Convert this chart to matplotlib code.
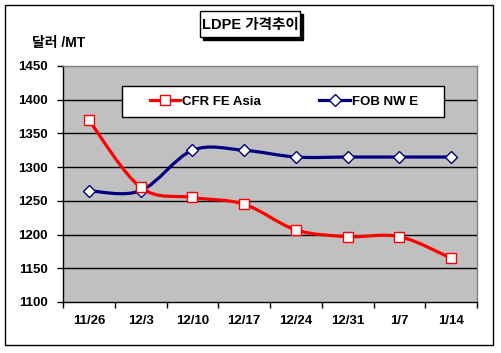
import matplotlib
matplotlib.use("Agg")
import matplotlib.pyplot as plt
import numpy as np
from matplotlib.path import Path
from matplotlib.patches import PathPatch, Rectangle
from matplotlib.lines import Line2D

categories = ["11/26", "12/3", "12/10", "12/17", "12/24", "12/31", "1/7", "1/14"]
cfr = [1370, 1270, 1255, 1245, 1207, 1197, 1197, 1165]
fob = [1265, 1265, 1325, 1325, 1315, 1315, 1315, 1315]
yticks = [1100, 1150, 1200, 1250, 1300, 1350, 1400, 1450]

plt.rcParams['font.family'] = ['Liberation Sans', 'Noto Sans CJK KR']

fig = plt.figure(figsize=(5.01, 3.53), dpi=100)
W, H = 501, 353
ax = fig.add_axes([63 / W, 1 - 302 / H, 414 / W, 236 / H])
ax.set_facecolor("#C0C0C0")

x = np.arange(len(categories))


def smooth_path(xs, ys):
    pts = np.column_stack([xs, ys]).astype(float)
    n = len(pts)
    verts = [pts[0]]
    codes = [Path.MOVETO]
    for i in range(n - 1):
        p0 = pts[i - 1] if i > 0 else pts[i]
        p1 = pts[i]
        p2 = pts[i + 1]
        p3 = pts[i + 2] if i + 2 < n else pts[i + 1]
        c1 = p1 + (p2 - p0) / 6.0
        c2 = p2 - (p3 - p1) / 6.0
        verts += [c1, c2, p2]
        codes += [Path.CURVE4] * 3
    return Path(verts, codes)


for data, col in [(fob, "#000080"), (cfr, "#FF0000")]:
    ax.add_patch(PathPatch(smooth_path(x, data), facecolor="none", edgecolor=col,
                           lw=2.3, zorder=3, capstyle="butt"))
for data, col, mk, ms in [(fob, "#000080", "D", 6.3), (cfr, "#FF0000", "s", 6.8)]:
    ax.plot(x, data, linestyle="none", marker=mk, markersize=ms,
            markerfacecolor="white", markeredgecolor=col, markeredgewidth=1.0, zorder=4)

ax.set_xlim(-0.5, len(categories) - 0.5)
ax.set_ylim(1100, 1450)
ax.set_yticks(yticks)
ax.set_yticklabels([str(v) for v in yticks], fontsize=9.5, fontweight="bold")
ax.set_xticks(x)
ax.set_xticklabels(categories, fontsize=9.5, fontweight="bold")
ax.tick_params(axis="x", which="major", length=0, pad=9)
ax.set_xticks(np.arange(-0.5, len(categories) + 0.5, 1), minor=True)
ax.tick_params(axis="x", which="minor", length=4, direction="out", width=1)
ax.tick_params(axis="y", length=4, direction="out", width=1, pad=7)
for v in yticks[1:-1]:
    ax.axhline(v, color="black", lw=1, zorder=1)
ax.spines["left"].set_color("black")
ax.spines["bottom"].set_color("black")
ax.spines["top"].set_color("#808080")
ax.spines["right"].set_color("#808080")
for s in ax.spines.values():
    s.set_linewidth(1)

# legend box
ax.add_patch(Rectangle((122 / W, 1 - 117 / H), 322 / W, 31 / H,
                       transform=fig.transFigure, facecolor="white",
                       edgecolor="black", lw=1, zorder=5, clip_on=False))
handles = [Line2D([], [], color="#FF0000", lw=2.3, marker="s", markersize=6.8,
                  markerfacecolor="white", markeredgecolor="#FF0000"),
           Line2D([], [], color="#000080", lw=2.3, marker="D", markersize=6.3,
                  markerfacecolor="white", markeredgecolor="#000080")]
leg = ax.legend(handles, ["CFR FE Asia", "FOB NW E"], ncol=2,
                loc="center", bbox_to_anchor=(284 / W, 1 - 101.5 / H),
                bbox_transform=fig.transFigure,
                prop={"size": 9.5, "weight": "bold"},
                frameon=False, columnspacing=4.4, handlelength=2.3,
                handletextpad=0.15, borderpad=0.0)
leg.set_zorder(6)

# title with shadow
fig.patches.append(Rectangle((203 / W, 1 - 40 / H), 100 / W, 26 / H,
                             transform=fig.transFigure, facecolor="black",
                             edgecolor="black", zorder=1))
fig.patches.append(Rectangle((200 / W, 1 - 37 / H), 100 / W, 26 / H,
                             transform=fig.transFigure, facecolor="white",
                             edgecolor="black", lw=1, zorder=2))
fig.text(250 / W, 1 - 24.5 / H, "LDPE 가격추이", ha="center", va="center",
         fontsize=10.5, fontweight="bold", zorder=3)
fig.text(32 / W, 1 - 43 / H, "달러 /MT", ha="left", va="center",
         fontsize=10, fontweight="bold")

# outer frame
fig.patches.append(Rectangle((5 / W, 1 - 345 / H), 488 / W, 340 / H,
                             transform=fig.transFigure, facecolor="none",
                             edgecolor="black", lw=1, zorder=0))

fig.savefig("out.png", dpi=100)
